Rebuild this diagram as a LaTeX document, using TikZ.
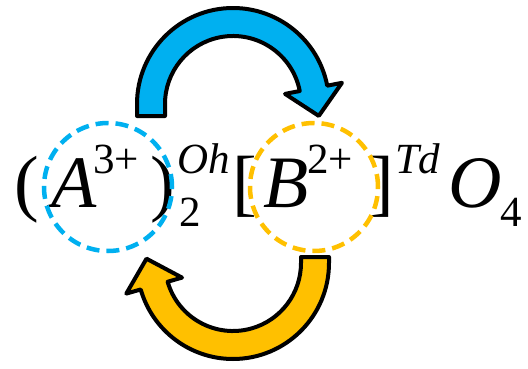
\documentclass[tikz,border=0pt]{standalone}
\usepackage{fontspec}
\setmainfont{Liberation Serif}
\definecolor{cblue}{RGB}{0,176,240}
\definecolor{cgold}{RGB}{255,192,0}
\begin{document}
\begin{tikzpicture}[x=1pt,y=1pt,
  big/.style={inner sep=0pt, outer sep=0pt, anchor=base west, font=\fontsize{74}{74}\selectfont},
  small/.style={inner sep=0pt, outer sep=0pt, anchor=base west, font=\fontsize{43}{43}\selectfont},
  ring/.style={circle, draw=#1, line width=4.5pt, dash pattern=on 13pt off 7pt, minimum size=128pt, inner sep=0pt},
  curvedarrow/.style={fill=#1, draw=black, line width=4pt, line join=round}]
\useasboundingbox (0,0) rectangle (528,368);
% formula
\node[big] (lpar) at (14,161) {(};
\node[big] (A) at (51,161) {\itshape A};
\node[small] (s3) at (93,195) {3+};
\node[big] (rpar) at (150,161) {)};
\node[small] (Oh) at (177,195) {\itshape Oh};
\node[small] (s2) at (179,142) {2};
\node[big] (lbr) at (232,161) {[};
\node[big] (B) at (263,161) {\itshape B};
\node[small] (s2p) at (307,195) {2+};
\node[big] (rbr) at (369,161) {]};
\node[small] (Td) at (395,195) {\itshape Td};
\node[big] (O) at (448,161) {\itshape O};
\node[small] (s4) at (500,142) {4};
% dashed rings
\node[ring=cblue] (ca) at (108,181) {};
\node[ring=cgold] (cb) at (314,181) {};
% blue arrow (top)
\begin{scope}[shift={(233,264)}]
\filldraw[curvedarrow=cblue] (-96,-12) -- (-96,0) arc[start angle=180, end angle=11, radius=96]
  -- (11:111) -- (85.8,-11.9) -- (11:53) -- (11:68)
  arc[start angle=11, end angle=180, radius=68] -- (-68,-12) -- cycle;
\end{scope}
% gold arrow (bottom)
\begin{scope}[shift={(233,105)}]
\filldraw[curvedarrow=cgold] (96,6) -- (96,0) arc[start angle=0, end angle=-164, radius=96]
  -- (-164:111) -- (-86.5,4.3) -- (-164:53) -- (-164:68)
  arc[start angle=-164, end angle=0, radius=68] -- (68,6) -- cycle;
\end{scope}
\end{tikzpicture}
\end{document}
